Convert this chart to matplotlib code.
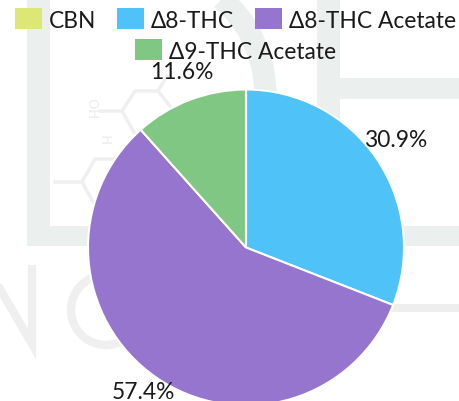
import matplotlib
matplotlib.use("Agg")
import numpy as np
import matplotlib.pyplot as plt
from matplotlib.patches import Patch, Rectangle, Arc

categories = ["CBN", "Δ8-THC", "Δ8-THC Acetate", "Δ9-THC Acetate"]
values = [0.0, 30.9, 57.4, 11.6]
colors = ["#DCE775", "#4FC3F7", "#9575CD", "#81C784"]
label_radii = [1.17, 1.17, 1.115, 1.185]
label_nudges = [(0, 0), (-2, 4), (-2.5, 1), (3, 1)]

W, H = 459, 402
CX, CY, R = 246, 248.5, 158
plt.rcParams["font.family"] = ["Lato", "DejaVu Sans"]
fs = 16.4
INK = "#1a1a1a"
fig = plt.figure(figsize=(W / 100, H / 100), dpi=100)

# faint watermark behind the chart, in pixel coordinates
bg = fig.add_axes([0, 0, 1, 1], zorder=0)
bg.set_xlim(0, W)
bg.set_ylim(H, 0)
bg.axis("off")
band = "#ebefed"
for x, y, w, h in [(27, 0, 23, 247), (27, 227, 432, 20), (317, 0, 23, 130),
                   (317, 79, 142, 21)]:
    bg.add_patch(Rectangle((x, y), w, h, color=band, lw=0))
bg.plot([222, 236, 248, 257, 263, 266], [0, 14, 30, 50, 70, 95], color=band, lw=16,
        solid_capstyle="butt")
bg.add_patch(Rectangle((320, 305), 139, 8, color="#eeeeee", lw=0))
grey = "#efefef"
bg.plot([0, 32, 32], [290, 345, 270], color=grey, lw=6, solid_joinstyle="miter")
bg.add_patch(Arc((106, 311), 70, 70, theta1=60, theta2=300, color=grey, lw=6))
for xs, ys in [([55, 82, 95, 117], [183, 183, 160, 160]), ([82, 93], [183, 203]),
               ([100, 122, 135, 158, 170], [112, 112, 92, 92, 107]), ([122, 135], [112, 135]),
               ([158, 167], [92, 77])]:
    bg.plot(xs, ys, color=grey, lw=2.5)
bg.text(95, 107, "HO", rotation=90, ha="center", va="center", fontsize=9, color=grey,
        fontweight="bold")
bg.text(108, 138, "H", rotation=90, ha="center", va="center", fontsize=9, color=grey,
        fontweight="bold")

ax = fig.add_axes([(CX - R) / W, (H - CY - R) / H, 2 * R / W, 2 * R / H], zorder=1)
wedges, _ = ax.pie(values, colors=colors, startangle=90, counterclock=False,
                   wedgeprops=dict(edgecolor="white", linewidth=1.5))
ax.set_xlim(-1, 1)
ax.set_ylim(-1, 1)
total = sum(values)
cum = 0
for v, r, nudge in zip(values, label_radii, label_nudges):
    mid = (cum + v / 2) / total * 2 * np.pi
    cum += v
    if v > 0:
        ax.annotate(f"{v:.1f}%", xy=(r * np.sin(mid), r * np.cos(mid)), xytext=nudge,
                    textcoords="offset pixels", ha="center", va="center",
                    fontsize=fs, color=INK, annotation_clip=False)

handles = [Patch(facecolor=c, label=l) for c, l in zip(colors, categories)]
kw = dict(frameon=False, fontsize=fs, handlelength=1.18, handleheight=1.04, handletextpad=0.3,
          labelcolor=INK, borderpad=0, borderaxespad=0)
fig.legend(handles=handles[:3], ncol=3, columnspacing=0.92, loc="center",
           bbox_to_anchor=(235.5 / W, 1 - 20.5 / H), **kw)
fig.legend(handles=handles[3:], loc="center", bbox_to_anchor=(235.5 / W, 1 - 51.5 / H), **kw)
fig.savefig("out.png", dpi=100)
